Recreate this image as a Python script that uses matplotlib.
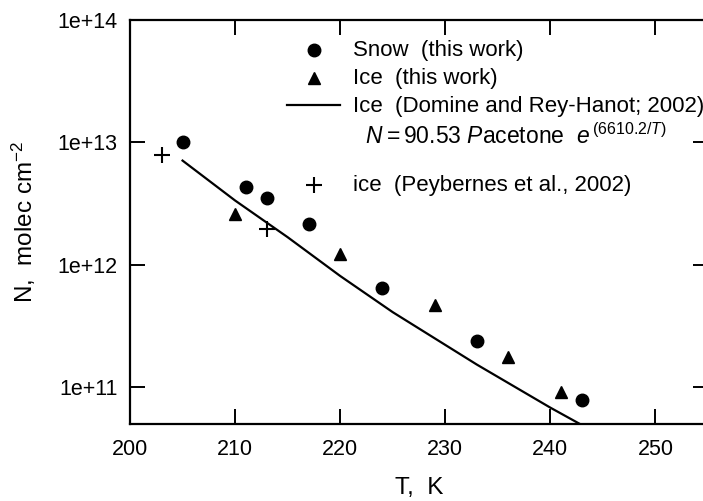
import matplotlib
matplotlib.use('Agg')
import matplotlib.pyplot as plt
from matplotlib.lines import Line2D
from matplotlib.ticker import FixedLocator, NullLocator, FuncFormatter

# data
snow_T = [205, 211, 213, 217, 224, 233, 243]
snow_N = [1.0e13, 4.3e12, 3.5e12, 2.14e12, 6.5e11, 2.37e11, 7.9e10]

ice_T = [210, 220, 229, 236, 241]
ice_N = [2.6e12, 1.23e12, 4.65e11, 1.78e11, 9.1e10]

domine_T = [205, 210, 215, 220, 225, 233, 240, 243]
domine_N = [7.1e12, 3.35e12, 1.68e12, 8.1e11, 4.1e11, 1.53e11, 6.8e10, 4.9e10]

peyb_T = [203, 213]
peyb_N = [7.9e12, 1.97e12]

y_ticks = [1e11, 1e12, 1e13, 1e14]
x_ticks = [200, 210, 220, 230, 240, 250]

plt.rcParams['font.family'] = ['Liberation Sans', 'DejaVu Sans']
plt.rcParams['mathtext.fontset'] = 'custom'
plt.rcParams['mathtext.rm'] = 'Liberation Sans'
plt.rcParams['mathtext.it'] = 'Liberation Sans:italic'


def sci_label(v, pos):
    return '%.0e' % v


def main():
    fig = plt.figure(figsize=(7.03, 5.01), dpi=100)
    ax = fig.add_axes([130 / 703, 77 / 501, 578 / 703, 404 / 501])

    ax.plot(snow_T, snow_N, 'o', color='black', ms=9, ls='none', clip_on=False)
    ax.plot(ice_T, ice_N, '^', color='black', ms=9, ls='none', clip_on=False)
    ax.plot(domine_T, domine_N, '-', color='black', lw=1.6)
    ax.plot(peyb_T, peyb_N, '+', color='black', ms=12, mew=1.5, ls='none', clip_on=False)

    ax.set_yscale('log')
    ax.set_xlim(200, 255)
    ax.set_ylim(5e10, 1e14)
    ax.yaxis.set_major_locator(FixedLocator(y_ticks))
    ax.yaxis.set_minor_locator(NullLocator())
    ax.yaxis.set_major_formatter(FuncFormatter(sci_label))
    ax.xaxis.set_major_locator(FixedLocator(x_ticks))

    ax.tick_params(direction='in', length=11, width=1.4, labelsize=15.5,
                   top=True, right=True, pad=9)
    ax.tick_params(axis='x', pad=11)
    for s in ax.spines.values():
        s.set_linewidth(1.6)

    ax.set_xlabel('T,  K', fontsize=17.5, labelpad=12)
    ax.set_ylabel('N,  molec cm$^{-2}$', fontsize=17.5, labelpad=14)

    handles = [
        Line2D([], [], marker='o', color='black', ls='none', ms=9),
        Line2D([], [], marker='^', color='black', ls='none', ms=9),
        Line2D([], [], color='black', lw=1.6),
        Line2D([], [], ls='none'),
        Line2D([], [], ls='none'),
        Line2D([], [], marker='+', color='black', ls='none', ms=12, mew=1.5),
    ]
    labels = [
        'Snow  (this work)',
        'Ice  (this work)',
        'Ice  (Domine and Rey-Hanot; 2002)',
        r'  $N = 90.53\ P\mathrm{acetone}\ \ e^{\,(6610.2/T)}$',
        ' ',
        'ice  (Peybernes et al., 2002)',
    ]
    leg = ax.legend(handles, labels, loc='upper left',
                    bbox_to_anchor=((287 - 130) / 578, 0.95),
                    frameon=False, fontsize=16, borderpad=0,
                    borderaxespad=0, handlelength=2.4, handletextpad=0.55,
                    labelspacing=0.3, handleheight=0.2)
    texts = leg.get_texts()
    texts[3].set_fontsize(16.5)
    texts[4].set_fontsize(3)

    fig.savefig('out.png', dpi=100)


if __name__ == '__main__':
    main()
